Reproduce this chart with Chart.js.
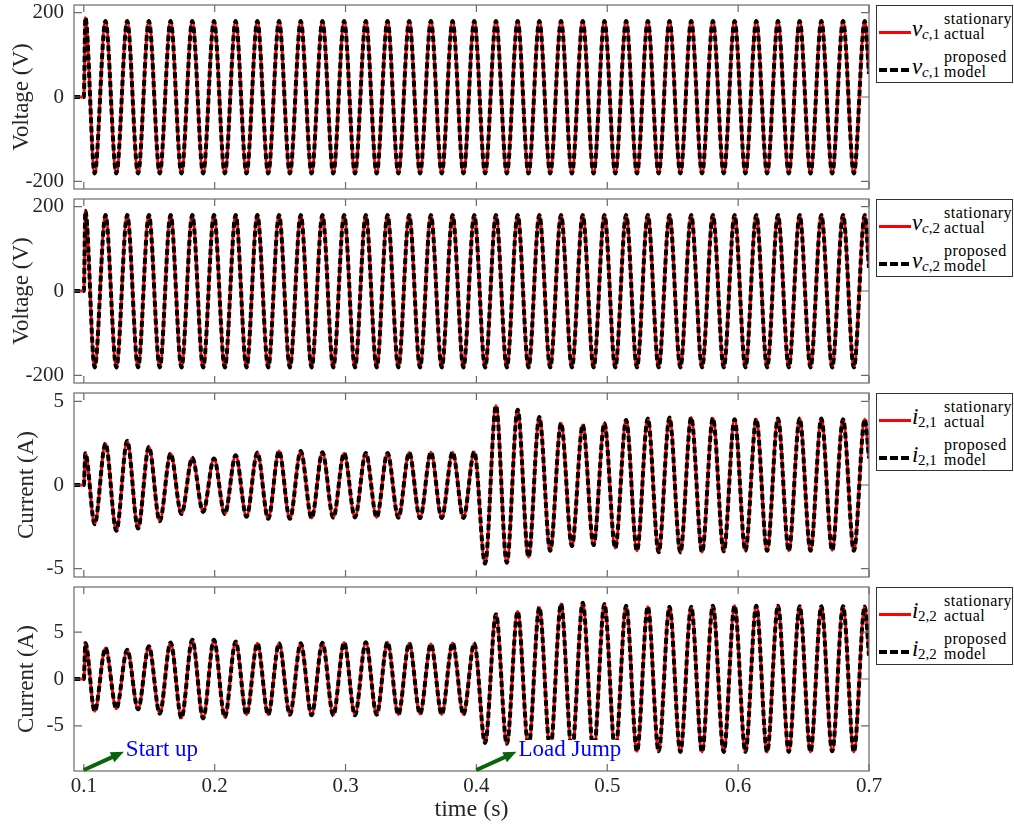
<!DOCTYPE html>
<html>
<head>
<meta charset="utf-8">
<title>Voltage and current waveforms</title>
<script src="https://cdn.jsdelivr.net/npm/chart.js@4.4.1/dist/chart.umd.min.js"></script>
<style>
  body { margin: 0; background: #fff; }
  #page { position: relative; width: 1014px; height: 827px; overflow: hidden; font-family: 'Liberation Serif', serif; }
  #page canvas { position: absolute; left: 0; }
  .legend { position: absolute; left: 876px; width: 137px; height: 78px; box-sizing: border-box; border: 1px solid #333; background: #fff; }
  .legend span { position: absolute; line-height: 1; white-space: nowrap; color: #000; }
  .legend .sample { position: absolute; left: 2px; width: 32px; }
</style>
</head>
<body>
<div id="page">
  <canvas id="p1" width="890" height="194" style="top:0px"></canvas>
  <canvas id="p2" width="890" height="194" style="top:194px"></canvas>
  <canvas id="p3" width="890" height="194" style="top:388px"></canvas>
  <canvas id="p4" width="890" height="245" style="top:582px"></canvas>
</div>
<script>
// time base: the waveforms start at 0.1 s, extremes every half period
const T_START = 0.1;
const SPIKE_T = 0.1012;
const HALF_PERIOD = 0.008288;
const X_MIN = 0.0925;
const X_MAX = 0.7;
const X_TICKS = [0.1, 0.2, 0.3, 0.4, 0.5, 0.6, 0.7];
const V_TICKS = [-200, 0, 200];
const I21_TICKS = [-5, 0, 5];
const I22_TICKS = [-5, 0, 5];

// peak / trough values of each half cycle
const VC1_PEAKS = [
  188, -181, 180, -181, 180, -181, 180, -181, 180, -181, 180, -181,
  180, -181, 180, -181, 180, -181, 180, -181, 180, -181, 180, -181,
  180, -181, 180, -181, 180, -181, 180, -181, 180, -181, 180, -181,
  180, -181, 180, -181, 180, -181, 180, -181, 180, -181, 180, -181,
  180, -181, 180, -181, 180, -181, 180, -181, 180, -181, 180, -181,
  180, -181, 180, -181, 180, -181, 180, -181, 180, -181, 180, -181,
  180
];
const VC1_END = 55;

const VC2_PEAKS = [
  190, -181, 180, -181, 180, -181, 180, -181, 180, -181, 180, -181,
  180, -181, 180, -181, 180, -181, 180, -181, 180, -181, 180, -181,
  180, -181, 180, -181, 180, -181, 180, -181, 180, -181, 180, -181,
  180, -181, 180, -181, 180, -181, 180, -181, 180, -181, 180, -181,
  180, -181, 180, -181, 180, -181, 180, -181, 180, -181, 180, -181,
  180, -181, 180, -181, 180, -181, 180, -181, 180, -181, 180, -181,
  180
];
const VC2_END = 55;

const I21_PEAKS = [
  1.9, -2.34, 2.48, -2.74, 2.64, -2.6, 2.28, -2.16, 1.88, -1.74, 1.63, -1.61,
  1.58, -1.74, 1.78, -1.9, 1.94, -2.02, 2.03, -2.02, 2.03, -1.98, 1.96, -1.95,
  1.9, -1.94, 1.92, -1.94, 1.92, -1.96, 1.94, -1.98, 1.96, -1.97, 1.96, -1.98,
  1.98, -4.7, 4.74, -4.65, 4.5, -4.3, 4.07, -3.93, 3.69, -3.65, 3.59, -3.59,
  3.69, -3.76, 3.88, -3.93, 3.98, -4.02, 4.03, -4.03, 4.03, -4.01, 3.99, -3.97,
  3.93, -3.93, 3.93, -3.93, 3.97, -3.93, 3.97, -3.93, 3.97, -3.9, 3.93, -3.93,
  3.93
];
const I21_END = 1.6;

const I22_PEAKS = [
  3.83, -3.44, 3.3, -3.16, 3.12, -3.23, 3.48, -3.69, 3.9, -4.15, 4.18, -4.2,
  4.18, -4.08, 4.0, -3.8, 3.8, -3.8, 3.8, -3.8, 3.82, -3.86, 3.86, -3.86,
  3.88, -3.86, 3.92, -3.8, 3.92, -3.8, 3.8, -3.72, 3.72, -3.78, 3.84, -3.78,
  3.79, -6.81, 6.91, -6.91, 7.2, -7.3, 7.62, -7.6, 7.98, -7.8, 8.12, -7.9,
  7.98, -7.8, 7.8, -7.7, 7.7, -7.7, 7.7, -7.77, 7.7, -7.77, 7.8, -7.77,
  7.8, -7.77, 7.8, -7.77, 7.8, -7.77, 7.75, -7.77, 7.75, -7.7, 7.75, -7.77,
  7.73
];
const I22_END = 2.5;

const NOTE_LABELS = ['Start up', 'Load Jump'];
const NOTE_TIMES = [0.1, 0.4];

const LEGEND_MAIN = ['v', 'v', 'i', 'i'];
const LEGEND_SUB = ['<i>c</i>,1', '<i>c</i>,2', '2,1', '2,2'];
const LEGEND_UPPER = ['stationary', 'proposed'];
const LEGEND_LOWER = ['actual', 'model'];

const FONT = "'Liberation Serif', serif";
const TEXT_COLOR = '#262626';
const AXIS_COLOR = '#6b6b6b';
const PANEL_TOPS = [5, 199, 393, 587];

function buildSeries(peaks, endValue) {
  const pts = [{x: X_MIN, y: 0}, {x: T_START, y: 0}];
  peaks.forEach((v, k) => {
    pts.push({x: k === 0 ? SPIKE_T : T_START + k * HALF_PERIOD, y: v});
  });
  pts.push({x: X_MAX, y: endValue});
  return pts;
}

// box and inward tick marks, MATLAB style
const framePlugin = {
  id: 'frame',
  afterDraw(chart) {
    const {ctx, chartArea: a, scales: {x, y}} = chart;
    ctx.save();
    ctx.strokeStyle = AXIS_COLOR;
    ctx.lineWidth = 1.2;
    ctx.beginPath();
    X_TICKS.forEach(v => {
      const px = x.getPixelForValue(v);
      ctx.moveTo(px, a.bottom); ctx.lineTo(px, a.bottom - 7);
      ctx.moveTo(px, a.top); ctx.lineTo(px, a.top + 7);
    });
    y.ticks.forEach(t => {
      const py = y.getPixelForValue(t.value);
      ctx.moveTo(a.left, py); ctx.lineTo(a.left + 8, py);
      ctx.moveTo(a.right, py); ctx.lineTo(a.right - 8, py);
    });
    ctx.stroke();
    ctx.strokeRect(a.left, a.top, a.right - a.left, a.bottom - a.top);
    ctx.restore();
  }
};

function drawArrow(ctx, x0, y0, x1, y1) {
  const ang = Math.atan2(y1 - y0, x1 - x0);
  const len = 13, half = 5.5;
  ctx.beginPath();
  ctx.moveTo(x0, y0);
  ctx.lineTo(x1 - Math.cos(ang) * len * 0.8, y1 - Math.sin(ang) * len * 0.8);
  ctx.stroke();
  ctx.beginPath();
  ctx.moveTo(x1, y1);
  ctx.lineTo(x1 - Math.cos(ang) * len - Math.sin(ang) * half, y1 - Math.sin(ang) * len + Math.cos(ang) * half);
  ctx.lineTo(x1 - Math.cos(ang) * len + Math.sin(ang) * half, y1 - Math.sin(ang) * len - Math.cos(ang) * half);
  ctx.closePath();
  ctx.fill();
}

const notePlugin = {
  id: 'notes',
  afterDraw(chart) {
    const {ctx, chartArea: a, scales: {x, y}} = chart;
    ctx.save();
    ctx.font = '23px ' + FONT;
    NOTE_LABELS.forEach((txt, i) => {
      const x0 = x.getPixelForValue(NOTE_TIMES[i]);
      const y0 = a.bottom - 1;
      const x1 = x.getPixelForValue(NOTE_TIMES[i] + 0.0306);
      const y1 = y.getPixelForValue(-7.75);
      const tx = x1 + 2;
      const base = y.getPixelForValue(-8.2);
      const w = ctx.measureText(txt).width;
      ctx.fillStyle = '#fff';
      ctx.fillRect(tx - 1, base - 16, w + 4, 21);
      ctx.fillStyle = '#0000ff';
      ctx.textBaseline = 'alphabetic';
      ctx.fillText(txt, tx, base);
      ctx.strokeStyle = '#0a640a';
      ctx.fillStyle = '#0a640a';
      ctx.lineWidth = 4;
      drawArrow(ctx, x0, y0, x1, y1);
    });
    ctx.restore();
  }
};

function makeChart(id, series, yMin, yMax, yTicks, yTitle, titlePad, isLast) {
  return new Chart(document.getElementById(id), {
    type: 'line',
    data: {
      datasets: [
        { label: 'model', data: series, borderColor: '#000', borderWidth: 4, borderDash: [6, 3], order: 0 },
        { label: 'actual', data: series, borderColor: '#ff0000', borderWidth: 3, order: 1 }
      ]
    },
    options: {
      responsive: false,
      animation: false,
      devicePixelRatio: 1,
      elements: {
        point: { radius: 0 },
        line: { cubicInterpolationMode: 'monotone', fill: false }
      },
      layout: { padding: { top: 5, right: 21, bottom: isLast ? 0 : 5, left: 0 } },
      plugins: { legend: { display: false }, tooltip: { enabled: false } },
      scales: {
        x: {
          type: 'linear', min: X_MIN, max: X_MAX, display: isLast,
          afterBuildTicks: s => { s.ticks = X_TICKS.map(v => ({value: v})); },
          afterFit: s => {
            s.height = isLast ? 56 : 0;
            s.paddingLeft = 0; s.paddingRight = 0;
          },
          grid: { display: false, drawTicks: false },
          border: { display: false },
          ticks: { padding: 3, autoSkip: false, maxRotation: 0, color: TEXT_COLOR,
                   font: { family: FONT, size: 21 }, callback: v => v.toFixed(1) },
          title: { display: true, text: 'time (s)', color: TEXT_COLOR,
                   font: { family: FONT, size: 24 }, padding: { top: 0, bottom: 3 } }
        },
        y: {
          type: 'linear', min: yMin, max: yMax,
          afterBuildTicks: s => { s.ticks = yTicks.map(v => ({value: v})); },
          afterFit: s => {
            s.width = 74;
            s.paddingTop = 0; s.paddingBottom = 0;
          },
          grid: { display: false, drawTicks: false },
          border: { display: false },
          ticks: { padding: 10, color: TEXT_COLOR, font: { family: FONT, size: 21 },
                   callback: v => String(v) },
          title: { display: true, text: yTitle, color: TEXT_COLOR,
                   font: { family: FONT, size: 23 }, padding: { top: titlePad, bottom: 0 } }
        }
      }
    },
    plugins: isLast ? [framePlugin, notePlugin] : [framePlugin]
  });
}

makeChart('p1', buildSeries(VC1_PEAKS, VC1_END), -218, 218, V_TICKS, 'Voltage (V)', 8, false);
makeChart('p2', buildSeries(VC2_PEAKS, VC2_END), -218, 218, V_TICKS, 'Voltage (V)', 8, false);
makeChart('p3', buildSeries(I21_PEAKS, I21_END), -5.5, 5.5, I21_TICKS, 'Current (A)', 13, false);
makeChart('p4', buildSeries(I22_PEAKS, I22_END), -9.8, 9.8, I22_TICKS, 'Current (A)', 13, true);

// legends as html boxes
function addSpan(box, html, left, baseline, size, italic, spacing) {
  const s = document.createElement('span');
  s.innerHTML = html;
  s.style.left = left + 'px';
  s.style.top = (baseline - 0.8375 * size) + 'px';
  s.style.fontSize = size + 'px';
  if (italic) s.style.fontStyle = 'italic';
  if (spacing) s.style.letterSpacing = spacing + 'px';
  box.appendChild(s);
}

const page = document.getElementById('page');
PANEL_TOPS.forEach((top, i) => {
  const box = document.createElement('div');
  box.className = 'legend';
  box.style.top = top + 'px';
  [0, 1].forEach(r => {
    const base = r === 0 ? 30 : 68;
    const line = document.createElement('div');
    line.className = 'sample';
    if (r === 0) {
      line.style.top = (base - 5) + 'px';
      line.style.height = '3px';
      line.style.background = '#ff0000';
    } else {
      line.style.top = (base - 6) + 'px';
      line.style.height = '4px';
      line.style.background = 'repeating-linear-gradient(to right, #000 0 8px, transparent 8px 11px)';
    }
    box.appendChild(line);
    const subLeft = LEGEND_MAIN[i] === 'v' ? 45 : 41;
    addSpan(box, LEGEND_MAIN[i], 35, base, 23, true);
    addSpan(box, LEGEND_SUB[i], subLeft, base + 4, 15, false);
    addSpan(box, LEGEND_UPPER[r], 67, base - 12, 16, false, 0.5);
    addSpan(box, LEGEND_LOWER[r], 67, base + 3, 16, false, 0.5);
  });
  page.appendChild(box);
});
</script>
</body>
</html>
